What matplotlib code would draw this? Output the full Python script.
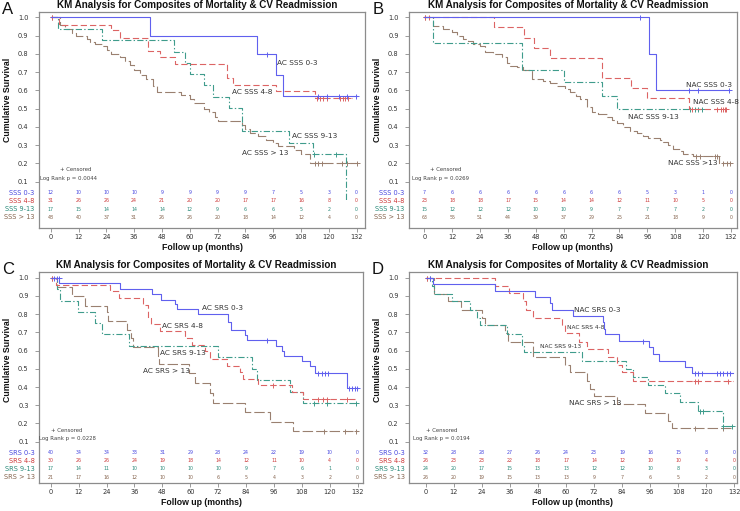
import numpy as np
import matplotlib
matplotlib.use("Agg")
import matplotlib.pyplot as plt

plt.rcParams['font.family'] = ['DejaVu Sans']
plt.rcParams['lines.scale_dashes'] = False

TITLE = "KM Analysis for Composites of Mortality & CV Readmission"
X_TICKS = [0, 12, 24, 36, 48, 60, 72, 84, 96, 108, 120, 132]
Y_TICKS = [0.1, 0.2, 0.3, 0.4, 0.5, 0.6, 0.7, 0.8, 0.9, 1.0]
Y_TICK_LABELS = ["0.1", "0.2", "0.3", "0.4", "0.5", "0.6", "0.7", "0.8", "0.9", "1.0"]

# ---------------- Panel A ----------------
A_letter = "A"
A_groups = ["SSS 0-3", "SSS 4-8", "SSS 9-13", "SSS > 13"]
A_curve_names = ["AC SSS 0-3", "AC SSS 4-8", "AC SSS 9-13", "AC SSS > 13"]
A_pvalue = "0.0044"
A_t1 = [0, 43, 89, 97.2, 100.3, 132]
A_s1 = [1.0, 0.90, 0.80, 0.686, 0.571, 0.571]
A_c1 = [93.2, 115.4, 119.3, 124.5, 127.7, 131.7]
A_t2 = [0, 3.7, 26, 30, 42, 47, 53.5, 76, 78.5, 97, 114, 130]
A_s2 = [1.0, 0.96, 0.93, 0.889, 0.816, 0.781, 0.744, 0.666, 0.629, 0.597, 0.558, 0.558]
A_c2 = [0.5, 114.8, 116.2, 117.6, 119.1, 124.8, 126.0, 127.1, 128.3]
A_t3 = [0, 3.3, 22, 53, 58, 60, 66, 70, 77, 82.5, 103, 113, 127.2, 127.2]
A_s3 = [1.0, 0.935, 0.873, 0.812, 0.752, 0.69, 0.628, 0.565, 0.502, 0.377, 0.314, 0.25, 0.0, 0.0]
A_c3 = [113.5, 123]
A_t4 = [0, 4, 6, 9, 11, 15.5, 17, 19, 22, 24.5, 26, 30, 32, 34, 36, 38.5, 41, 44, 46, 56, 60, 62,
        66, 68.5, 71, 72, 82.5, 84, 86, 89.5, 93, 96, 98, 105, 108, 112, 132]
A_s4 = [1.0, 0.96, 0.935, 0.913, 0.90, 0.88, 0.865, 0.855, 0.84, 0.82, 0.80, 0.78, 0.76, 0.74, 0.71,
        0.685, 0.66, 0.625, 0.593, 0.575, 0.55, 0.53, 0.50, 0.48, 0.455, 0.432, 0.41, 0.39, 0.368,
        0.35, 0.33, 0.31, 0.297, 0.275, 0.25, 0.205, 0.205]
A_c4 = [0.5, 114, 115.5, 117, 125.5, 128, 132]
A_risk1 = [12, 10, 10, 10, 9, 9, 9, 9, 7, 5, 3, 0]
A_risk2 = [31, 26, 26, 24, 21, 20, 20, 17, 17, 16, 8, 0]
A_risk3 = [17, 15, 14, 14, 14, 12, 9, 6, 6, 5, 2, 0]
A_risk4 = [48, 40, 37, 31, 26, 26, 20, 18, 14, 12, 4, 0]

# ---------------- Panel B ----------------
B_letter = "B"
B_groups = ["SSS 0-3", "SSS 4-8", "SSS 9-13", "SSS > 13"]
B_curve_names = ["NAC SSS 0-3", "NAC SSS 4-8", "NAC SSS 9-13", "NAC SSS >13"]
B_pvalue = "0.0269"
B_t1 = [0, 96.8, 99.7, 131.3]
B_s1 = [1.0, 0.80, 0.60, 0.60]
B_c1 = [92.8, 114, 118, 131.3]
B_t2 = [0, 30, 43, 47, 54, 76.6, 89, 96, 114, 130]
B_s2 = [1.0, 0.944, 0.889, 0.833, 0.778, 0.667, 0.611, 0.556, 0.50, 0.50]
B_c2 = [0.5, 2, 115, 126, 127.5, 128.5, 129.5, 130]
B_t3 = [0, 3.6, 42, 60, 76.6, 83, 120]
B_s3 = [1.0, 0.857, 0.714, 0.643, 0.571, 0.50, 0.50]
B_c3 = [114.3, 116.5, 118, 119.4]
B_t4 = [0, 3.9, 8.2, 11.8, 13.9, 16.8, 18.9, 21.1, 24, 26.1, 29.7, 33.3, 35.4, 36.9, 39.7, 42.3, 46.2,
        51.2, 54.1, 57, 60.5, 62.7, 65.1, 67, 69.9, 72, 74.9, 78.5, 80.6, 83.1, 85.7, 88.5, 91.4,
        94, 96.4, 101.4, 102.9, 105, 107.2, 110, 111.5, 115.8, 127, 131.6]
B_s4 = [1.0, 0.95, 0.935, 0.92, 0.90, 0.88, 0.87, 0.855, 0.84, 0.81, 0.80, 0.78, 0.75, 0.735, 0.73,
        0.71, 0.66, 0.65, 0.64, 0.625, 0.61, 0.59, 0.57, 0.55, 0.51, 0.48, 0.47, 0.455, 0.44, 0.42,
        0.40, 0.375, 0.365, 0.35, 0.34, 0.33, 0.315, 0.30, 0.28, 0.27, 0.25, 0.24, 0.20, 0.20]
B_c4 = [0.5, 116.9, 118.6, 125.1, 125.8, 128.7, 130.1, 131.6]
B_risk1 = [7, 6, 6, 6, 6, 6, 6, 6, 5, 3, 1, 0]
B_risk2 = [23, 18, 18, 17, 15, 14, 14, 12, 11, 10, 5, 0]
B_risk3 = [15, 12, 12, 12, 10, 10, 9, 7, 7, 7, 2, 0]
B_risk4 = [63, 55, 51, 44, 39, 37, 29, 25, 21, 18, 9, 0]

# ---------------- Panel C ----------------
C_letter = "C"
C_groups = ["SRS 0-3", "SRS 4-8", "SRS 9-13", "SRS > 13"]
C_curve_names = ["AC SRS 0-3", "AC SRS 4-8", "AC SRS 9-13", "AC SRS > 13"]
C_pvalue = "0.0228"
C_t1 = [0, 3.7, 29.8, 43.4, 47.4, 53.5, 54.2, 63.2, 76.4, 77.4, 83.5, 84.2, 96.9, 99.3, 100.5,
        107.9, 111.5, 113.8, 127.3, 132]
C_s1 = [1.0, 0.971, 0.94, 0.91, 0.88, 0.855, 0.83, 0.80, 0.757, 0.714, 0.685, 0.657, 0.628, 0.60,
        0.571, 0.543, 0.514, 0.476, 0.397, 0.397]
C_c1 = [1.4, 2.6, 3.4, 92.9, 115.1, 116.5, 117.9, 119.4, 128.4, 129.5, 130.7, 131.8]
C_t2 = [0, 2.3, 25.5, 29.5, 39.8, 42, 43, 47, 57.7, 60.6, 66.3, 68.5, 75.7, 81.4, 82.8, 89.3, 103.6,
        108.6, 131.5]
C_s2 = [1.0, 0.963, 0.927, 0.89, 0.853, 0.78, 0.744, 0.705, 0.667, 0.63, 0.60, 0.555, 0.518, 0.48,
        0.444, 0.41, 0.375, 0.335, 0.335]
C_c2 = [0.5, 95.7, 115.1, 116.9, 118.7, 127.3]
C_t3 = [0, 2.9, 4.0, 11.6, 19.1, 21.9, 33.8, 72.1, 86.4, 88.8, 102.9, 108.6, 131.5]
C_s3 = [1.0, 0.94, 0.875, 0.81, 0.75, 0.69, 0.625, 0.563, 0.50, 0.437, 0.375, 0.313, 0.313]
C_c3 = [113.2, 118.9, 131.3]
C_t4 = [0, 2.6, 9.0, 14.8, 24.1, 24.8, 32.7, 34.5, 35.5, 46, 46.7, 59.6, 62, 68.5, 69.9, 83.5,
        94.3, 104.3, 132]
C_s4 = [1.0, 0.95, 0.90, 0.845, 0.81, 0.762, 0.714, 0.667, 0.619, 0.571, 0.524, 0.476, 0.42,
        0.368, 0.315, 0.263, 0.21, 0.158, 0.158]
C_c4 = [0.5, 117.5, 126.5, 131.3]
C_risk1 = [40, 34, 34, 33, 31, 29, 28, 24, 22, 19, 10, 0]
C_risk2 = [30, 26, 26, 24, 19, 18, 14, 12, 11, 10, 4, 0]
C_risk3 = [17, 14, 11, 10, 10, 10, 10, 9, 7, 6, 1, 0]
C_risk4 = [21, 17, 16, 12, 10, 10, 6, 5, 4, 3, 2, 0]

# ---------------- Panel D ----------------
D_letter = "D"
D_groups = ["SRS 0-3", "SRS 4-8", "SRS 9-13", "SRS > 13"]
D_curve_names = ["NAC SRS 0-3", "NAC SRS 4-8", "NAC SRS 9-13", "NAC SRS > 13"]
D_pvalue = "0.0194"
D_t1 = [0, 3.3, 29.7, 46.8, 53.2, 53.9, 62.9, 76, 76.4, 76.8, 82.8, 95.7, 97.1, 99.9, 110.9, 113.8,
        131.6]
D_s1 = [1.0, 0.965, 0.93, 0.895, 0.86, 0.825, 0.79, 0.755, 0.72, 0.69, 0.655, 0.62, 0.58, 0.545,
        0.51, 0.475, 0.475]
D_c1 = [1.9, 92.8, 115.2, 116.6, 118, 124.4, 125.9, 127.3, 128.7, 130.1]
D_t2 = [0, 29.7, 35.8, 41.8, 42.8, 45.8, 58.2, 59.6, 65.7, 68.9, 77.8, 81.7, 83.8, 88.8, 131.6]
D_s2 = [1.0, 0.955, 0.915, 0.87, 0.825, 0.78, 0.74, 0.695, 0.65, 0.61, 0.565, 0.52, 0.48, 0.435,
        0.435]
D_c2 = [0.5, 115.2, 116.6, 129.4]
D_t3 = [0, 2.6, 3.6, 11.1, 19, 21.8, 23.2, 34.6, 41.1, 42.1, 66.7, 85.7, 88.5, 95.2, 102.4, 108.8,
        116.6, 127, 131.6]
D_s3 = [1.0, 0.955, 0.91, 0.87, 0.825, 0.78, 0.74, 0.69, 0.63, 0.59, 0.545, 0.50, 0.455, 0.41,
        0.365, 0.32, 0.27, 0.185, 0.185]
D_c3 = [1.9, 117.3, 118.7, 127.3, 130.9]
D_t4 = [0, 3.6, 9.4, 15, 23.9, 25.4, 33.9, 35.1, 45.8, 46, 59.6, 61.7, 68.9, 70.3, 72, 82, 93.8,
        103.8, 105.2, 131.6]
D_s4 = [1.0, 0.91, 0.87, 0.825, 0.78, 0.74, 0.695, 0.65, 0.605, 0.565, 0.52, 0.48, 0.435, 0.39,
        0.35, 0.305, 0.26, 0.215, 0.175, 0.175]
D_c4 = [0.5, 115.2, 127.3]
D_risk1 = [32, 28, 28, 27, 26, 24, 23, 19, 16, 15, 8, 0]
D_risk2 = [26, 23, 23, 22, 18, 17, 14, 12, 10, 10, 4, 0]
D_risk3 = [24, 20, 17, 15, 13, 13, 12, 12, 10, 8, 3, 0]
D_risk4 = [26, 20, 19, 15, 13, 13, 9, 7, 6, 5, 2, 0]

# ---------------- styles / layout ----------------
LINE_COLORS = ['#6060ee', '#dc6464', '#3f9c8c', '#9a8070']
TEXT_COLORS = ['#4848e0', '#cc3a3a', '#2a8a7a', '#86654f']
DASHES = [None, (4.5, 2.2), (4.5, 1.6, 1.0, 1.6), (7.5, 2.2)]
RISK_ROWS_Y = [0.040, -0.004, -0.050, -0.095]

LAYOUT = {
    'A': dict(px=(39.0, 12.3, 365.0, 228.0), xlim=(-5.05, 135.6), ylim=(-0.153, 1.027),
              name_pos=[(97.6, 0.75), (78.3, 0.59), (104.0, 0.35), (82.5, 0.257)],
              name_size=[5.3, 5.3, 5.3, 5.3],
              cens_pos=(4.0, 0.166), lr_pos=(-4.6, 0.119)),
    'B': dict(px=(409.3, 12.3, 736.7, 228.0), xlim=(-6.46, 134.45), ylim=(-0.153, 1.027),
              name_pos=[(112.6, 0.63), (115.8, 0.538), (87.8, 0.456), (105.0, 0.20)],
              name_size=[5.3, 5.3, 5.3, 5.3],
              cens_pos=(2.5, 0.166), lr_pos=(-5.5, 0.119)),
    'C': dict(px=(39.3, 272.3, 363.3, 483.0), xlim=(-4.9, 134.4), ylim=(-0.127, 1.030),
              name_pos=[(64.9, 0.835), (48.0, 0.737), (47.0, 0.585), (39.8, 0.488)],
              name_size=[5.3, 5.3, 5.3, 5.3],
              cens_pos=(0.0, 0.164), lr_pos=(-4.9, 0.115)),
    'D': dict(px=(409.3, 272.3, 736.7, 483.0), xlim=(-7.0, 133.0), ylim=(-0.127, 1.030),
              name_pos=[(63.4, 0.823), (60.3, 0.726), (48.9, 0.62), (61.3, 0.314)],
              name_size=[5.3, 4.2, 4.2, 5.3],
              cens_pos=(0.0, 0.164), lr_pos=(-5.3, 0.115)),
}

PANELS = [
    ('A', A_letter, A_groups, A_curve_names, A_pvalue,
     [(A_t1, A_s1, A_c1), (A_t2, A_s2, A_c2), (A_t3, A_s3, A_c3), (A_t4, A_s4, A_c4)],
     [A_risk1, A_risk2, A_risk3, A_risk4]),
    ('B', B_letter, B_groups, B_curve_names, B_pvalue,
     [(B_t1, B_s1, B_c1), (B_t2, B_s2, B_c2), (B_t3, B_s3, B_c3), (B_t4, B_s4, B_c4)],
     [B_risk1, B_risk2, B_risk3, B_risk4]),
    ('C', C_letter, C_groups, C_curve_names, C_pvalue,
     [(C_t1, C_s1, C_c1), (C_t2, C_s2, C_c2), (C_t3, C_s3, C_c3), (C_t4, C_s4, C_c4)],
     [C_risk1, C_risk2, C_risk3, C_risk4]),
    ('D', D_letter, D_groups, D_curve_names, D_pvalue,
     [(D_t1, D_s1, D_c1), (D_t2, D_s2, D_c2), (D_t3, D_s3, D_c3), (D_t4, D_s4, D_c4)],
     [D_risk1, D_risk2, D_risk3, D_risk4]),
]

W, H = 740, 511
fig = plt.figure(figsize=(W / 100, H / 100), dpi=100)

FRAME = '#8c8c8c'

for key, letter, groups, names, pval, series, risks in PANELS:
    lay = LAYOUT[key]
    x0, y0, x1, y1 = lay['px']
    ax = fig.add_axes([x0 / W, 1 - y1 / H, (x1 - x0) / W, (y1 - y0) / H])
    ax.set_xlim(*lay['xlim'])
    ax.set_ylim(*lay['ylim'])
    for sp in ax.spines.values():
        sp.set_color(FRAME)
        sp.set_linewidth(0.9)

    # curves (draw brown first so blue sits on top)
    for i in [3, 2, 1, 0]:
        t, s, c = series[i]
        line, = ax.step(t, s, where='post', color=LINE_COLORS[i], lw=0.8)
        if DASHES[i] is not None:
            line.set_dashes(DASHES[i])
        ta = np.asarray(t, float)
        sa = np.asarray(s, float)
        ca = np.asarray(c, float)
        idx = np.clip(np.searchsorted(ta, ca, side='right') - 1, 0, len(sa) - 1)
        ax.plot(ca, sa[idx], linestyle='none', marker='+', ms=3.6, mew=0.7,
                color=LINE_COLORS[i])

    # curve names
    for i, nm in enumerate(names):
        xx, yy = lay['name_pos'][i]
        ax.text(xx, yy, nm, fontsize=lay['name_size'][i], color='#333333',
                ha='left', va='center')

    # censored / log-rank
    ax.text(*lay['cens_pos'], "+ Censored", fontsize=3.9, color='#444444',
            ha='left', va='center')
    ax.text(*lay['lr_pos'], "Log Rank p = " + pval, fontsize=3.9, color='#444444',
            ha='left', va='center')

    # at-risk table
    for i, row in enumerate(risks):
        for xt, n in zip(X_TICKS, row):
            ax.text(xt, RISK_ROWS_Y[i], str(n), fontsize=3.4, color=TEXT_COLORS[i],
                    ha='center', va='center')
        ax.text(-0.014, RISK_ROWS_Y[i], groups[i], transform=ax.get_yaxis_transform(),
                fontsize=4.8, color=TEXT_COLORS[i], ha='right', va='center')

    # ticks
    ax.set_xticks(X_TICKS)
    ax.set_xticklabels([str(v) for v in X_TICKS])
    ax.set_yticks(Y_TICKS)
    ax.set_yticklabels(Y_TICK_LABELS)
    ax.tick_params(axis='y', direction='out', length=3.1, width=0.6, color=FRAME,
                   labelsize=4.8, pad=4.5, labelcolor='#333333')
    ax.tick_params(axis='x', direction='out', length=2.6, width=0.6, color=FRAME,
                   labelsize=4.8, pad=1.5, labelcolor='#333333')

    # axis labels, title, panel letter
    ax.text(-0.098, 0.55, "Cumulative Survival", transform=ax.get_yaxis_transform(),
            rotation=90, ha='center', va='center', fontsize=6.3, fontweight='bold',
            family='Liberation Sans', color='#111111')
    hpx = y1 - y0
    ax.text(0.5, -19.0 / hpx, "Follow up (months)", transform=ax.transAxes,
            ha='center', va='center', fontsize=6.3, fontweight='bold',
            family='Liberation Sans', color='#111111')
    ax.text(0.485, 1 + 7.3 / hpx, TITLE, transform=ax.transAxes, ha='center',
            va='center', fontsize=7.1, fontweight='bold', family='Liberation Sans',
            color='#111111')
    fig.text((x0 - 31.5) / W, 1 - (y0 - 3.0) / H, letter, fontsize=12,
             family='Liberation Sans', ha='center', va='center', color='#111111')

fig.savefig("out.png", dpi=100)
